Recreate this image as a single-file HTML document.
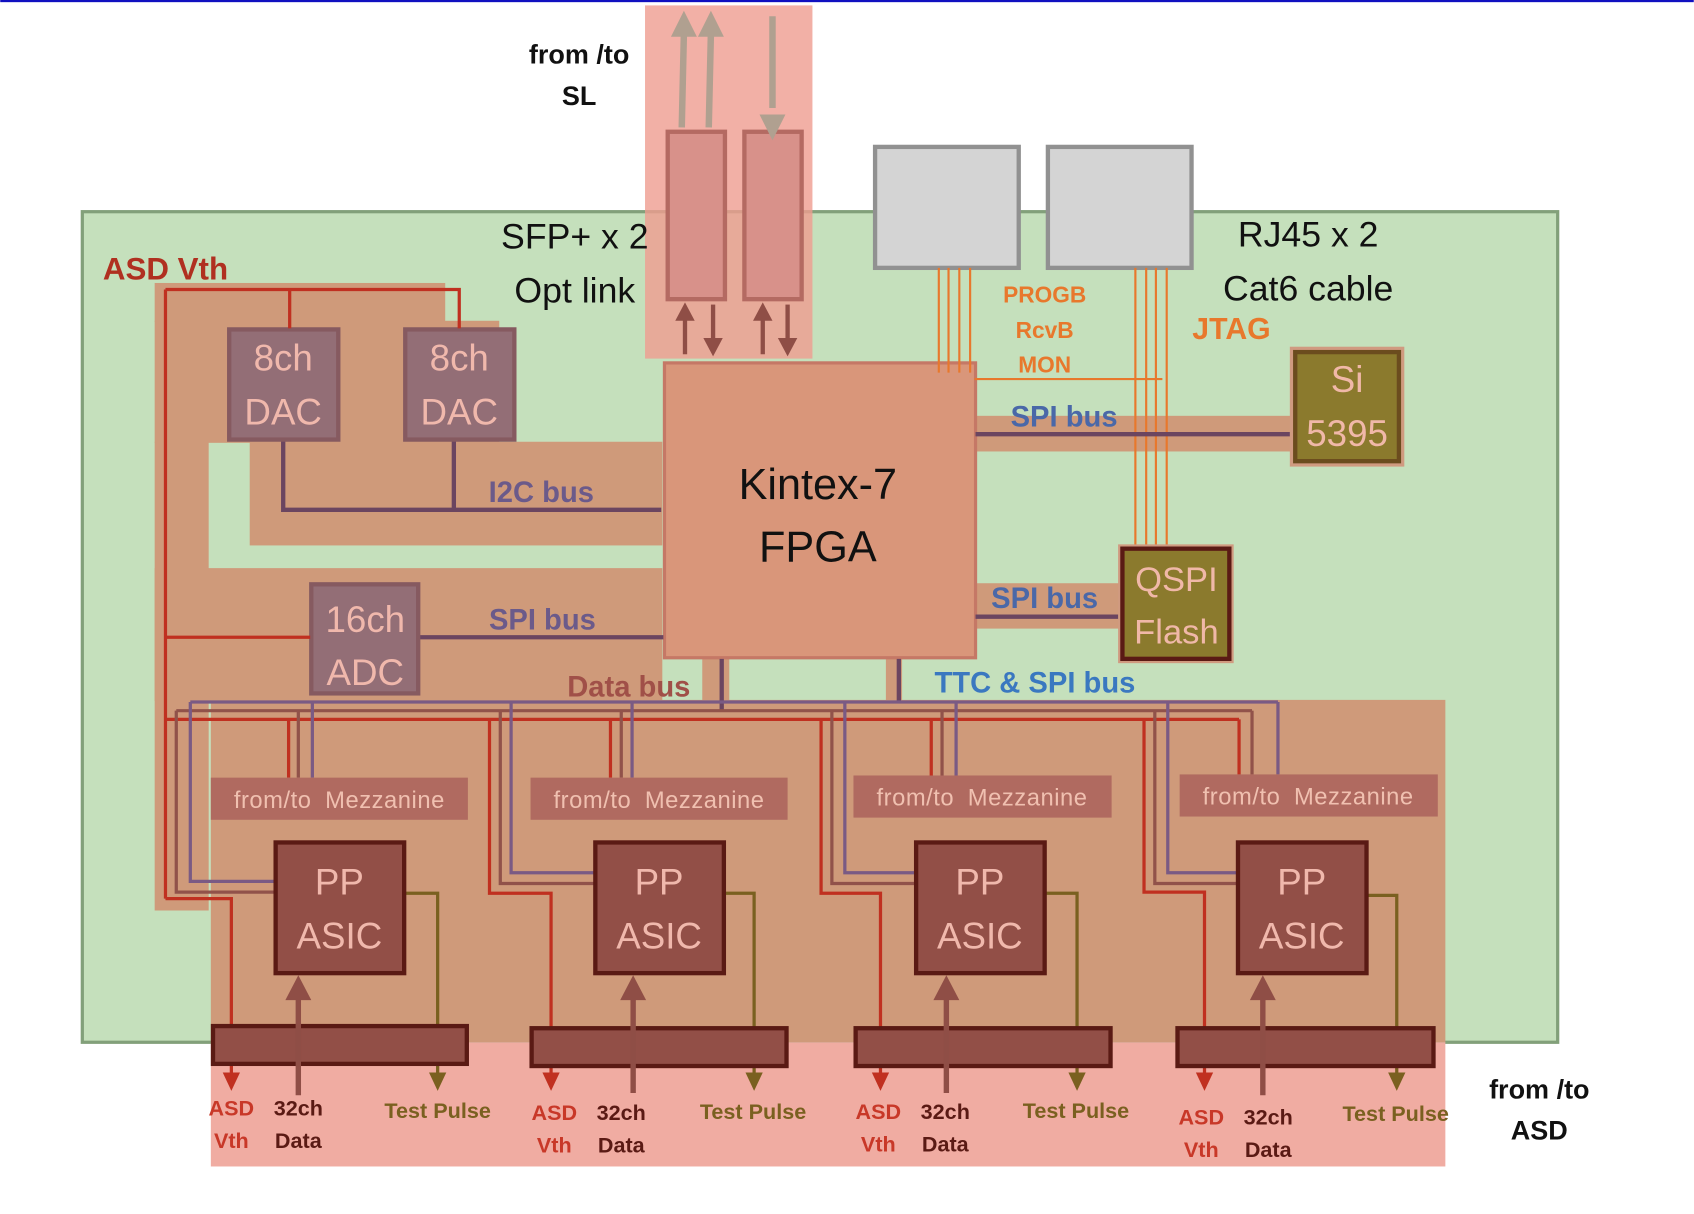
<!DOCTYPE html>
<html><head><meta charset="utf-8"><style>
html,body{margin:0;padding:0;background:#fff;}
svg{display:block;font-family:"Liberation Sans",sans-serif;}
</style></head><body>
<svg width="1694" height="1214" viewBox="0 0 1568 1124" xmlns="http://www.w3.org/2000/svg">
<rect x="0" y="0" width="1568" height="2" fill="#1010c0"/>
<rect x="76" y="196" width="1366" height="769" fill="#c5e0bc" stroke="#82a07a" stroke-width="3"/>
<g fill="#cf9a7a">
<rect x="143" y="262" width="269" height="36"/>
<rect x="143" y="297" width="319" height="113"/>
<rect x="143" y="409" width="50" height="434"/>
<rect x="231" y="409" width="382" height="96"/>
<rect x="143" y="526" width="470" height="123"/>
<rect x="195" y="648" width="1143" height="317"/>
<rect x="900" y="385" width="296" height="33"/>
<rect x="900" y="540" width="138" height="42"/>
<rect x="650" y="605" width="25" height="45"/>
<rect x="820" y="605" width="15" height="45"/>
</g>
<rect x="597" y="5" width="155" height="327" fill="#ef9c90" fill-opacity="0.8"/>
<rect x="195" y="965" width="1143" height="115" fill="#f0aca2"/>
<rect x="618" y="122" width="53" height="155" fill="#d8918a" stroke="#b46a62" stroke-width="4"/>
<rect x="689" y="122" width="53" height="155" fill="#d8918a" stroke="#b46a62" stroke-width="4"/>
<g stroke="#b0a090" stroke-width="6" fill="none">
<line x1="631" y1="118" x2="633" y2="30"/><line x1="656" y1="118" x2="658" y2="30"/>
<line x1="715" y1="15" x2="715" y2="100"/>
</g>
<g fill="#b0a090">
<path d="M621,34L633,10L645,34z"/><path d="M646,34L658,10L670,34z"/><path d="M703,106L715,130L727,106z"/>
</g>
<g stroke="#8f4e46" stroke-width="4">
<line x1="634" y1="328" x2="634" y2="295"/><line x1="660" y1="282" x2="660" y2="315"/>
<line x1="706" y1="328" x2="706" y2="295"/><line x1="729" y1="282" x2="729" y2="315"/>
</g>
<g fill="#8f4e46">
<path d="M625,297L634,280L643,297z"/><path d="M651,313L660,330L669,313z"/>
<path d="M697,297L706,280L715,297z"/><path d="M720,313L729,330L738,313z"/>
</g>
<rect x="810" y="136" width="133" height="112" fill="#d4d4d4" stroke="#919191" stroke-width="4"/>
<rect x="970" y="136" width="133" height="112" fill="#d4d4d4" stroke="#919191" stroke-width="4"/>
<rect x="615" y="336" width="288" height="273" fill="#d9967a" stroke="#c57866" stroke-width="3"/>
<text x="757" y="462" font-size="40" text-anchor="middle" fill="#111">Kintex-7</text>
<text x="757" y="520" font-size="40" text-anchor="middle" fill="#111">FPGA</text>
<g stroke="#e8782c" stroke-width="2">
<line x1="869" y1="248" x2="869" y2="345"/><line x1="878" y1="248" x2="878" y2="345"/>
<line x1="888" y1="248" x2="888" y2="345"/><line x1="898" y1="248" x2="898" y2="345"/>
<line x1="902" y1="351" x2="1076" y2="351"/>
<line x1="1051" y1="248" x2="1051" y2="506"/><line x1="1061" y1="248" x2="1061" y2="506"/>
<line x1="1070" y1="248" x2="1070" y2="506"/><line x1="1080" y1="248" x2="1080" y2="506"/>
</g>
<g stroke="#6b4560" stroke-width="4" fill="none">
<line x1="903" y1="402" x2="1196" y2="402"/>
<line x1="903" y1="571" x2="1037" y2="571"/>
<polyline points="262,407 262,472 612,472"/>
<line x1="420" y1="407" x2="420" y2="472"/>
<line x1="387" y1="590" x2="614" y2="590"/>
<line x1="668" y1="610" x2="668" y2="657"/>
<line x1="832" y1="610" x2="832" y2="651"/>
</g>
<rect x="1194" y="321" width="106" height="111" fill="#d09a80"/>
<rect x="1199" y="326" width="96" height="101" fill="#8b7a2d" stroke="#6b4c1e" stroke-width="4"/>
<text x="1247" y="363" font-size="34" text-anchor="middle" fill="#f0b8a8">Si</text>
<text x="1247" y="413" font-size="34" text-anchor="middle" fill="#f0b8a8">5395</text>
<rect x="1035" y="504" width="107" height="110" fill="#d09a80"/>
<rect x="1039" y="508" width="99" height="102" fill="#8b7a2d" stroke="#5a1a14" stroke-width="4"/>
<text x="1089" y="547" font-size="32" text-anchor="middle" fill="#f0b8a8">QSPI</text>
<text x="1089" y="596" font-size="32" text-anchor="middle" fill="#f0b8a8">Flash</text>
<g fill="#936e76" stroke="#865a60" stroke-width="4">
<rect x="212" y="305" width="101" height="102"/>
<rect x="375" y="305" width="101" height="102"/>
<rect x="288" y="541" width="99" height="101"/>
</g>
<g fill="#f0b8ac" font-size="34" text-anchor="middle">
<text x="262" y="343">8ch</text><text x="262" y="393">DAC</text>
<text x="425" y="343">8ch</text><text x="425" y="393">DAC</text>
<text x="338" y="585">16ch</text><text x="338" y="634">ADC</text>
</g>
<g stroke="#c03020" stroke-width="3" fill="none">
<polyline points="153,268 425,268 425,304"/>
<line x1="268" y1="268" x2="268" y2="304"/>
<line x1="153" y1="268" x2="153" y2="832"/>
<line x1="153" y1="590" x2="287" y2="590"/>
<line x1="153" y1="666" x2="1147" y2="666"/>
</g>
<line x1="176" y1="650" x2="1183" y2="650" stroke="#7a5a84" stroke-width="3"/>
<line x1="163" y1="658" x2="1159" y2="658" stroke="#91524a" stroke-width="3"/>
<g fill="none" stroke-width="3">
<polyline stroke="#c03020" points="153,832 214,832 214,1000"/>
<polyline stroke="#91524a" points="163,658 163,826 254,826"/>
<polyline stroke="#7a5a84" points="176,650 176,816 254,816"/>
<line stroke="#c03020" x1="267" y1="666" x2="267" y2="720"/>
<line stroke="#91524a" x1="276" y1="658" x2="276" y2="720"/>
<line stroke="#7a5a84" x1="289" y1="650" x2="289" y2="720"/>
<polyline stroke="#7a6020" points="374,827 405,827 405,1000"/>
</g>
<g fill="none" stroke-width="3">
<polyline stroke="#c03020" points="453,666 453,827 510,827 510,1000"/>
<polyline stroke="#91524a" points="463,658 463,818 550,818"/>
<polyline stroke="#7a5a84" points="473,650 473,808 550,808"/>
<line stroke="#c03020" x1="565" y1="666" x2="565" y2="720"/>
<line stroke="#91524a" x1="575" y1="658" x2="575" y2="720"/>
<line stroke="#7a5a84" x1="585" y1="650" x2="585" y2="720"/>
<polyline stroke="#7a6020" points="670,827 698,827 698,1000"/>
</g>
<g fill="none" stroke-width="3">
<polyline stroke="#c03020" points="760,666 760,827 815,827 815,1000"/>
<polyline stroke="#91524a" points="770,658 770,818 847,818"/>
<polyline stroke="#7a5a84" points="782,650 782,808 847,808"/>
<line stroke="#c03020" x1="862" y1="666" x2="862" y2="718"/>
<line stroke="#91524a" x1="872" y1="658" x2="872" y2="718"/>
<line stroke="#7a5a84" x1="885" y1="650" x2="885" y2="718"/>
<polyline stroke="#7a6020" points="967,827 997,827 997,1000"/>
</g>
<g fill="none" stroke-width="3">
<polyline stroke="#c03020" points="1059,666 1059,826 1115,826 1115,1000"/>
<polyline stroke="#91524a" points="1069,658 1069,818 1145,818"/>
<polyline stroke="#7a5a84" points="1081,650 1081,808 1145,808"/>
<line stroke="#c03020" x1="1147" y1="666" x2="1147" y2="717"/>
<line stroke="#91524a" x1="1159" y1="658" x2="1159" y2="717"/>
<line stroke="#7a5a84" x1="1183" y1="650" x2="1183" y2="717"/>
<polyline stroke="#7a6020" points="1265,829 1293,829 1293,1000"/>
</g>
<g fill="#b06a60">
<rect x="195" y="720" width="238" height="39"/>
<rect x="491" y="720" width="238" height="39"/>
<rect x="790" y="718" width="239" height="39"/>
<rect x="1092" y="717" width="239" height="39"/>
</g>
<g fill="#f0c0b0" font-size="22" text-anchor="middle" word-spacing="6" letter-spacing="0.5">
<text x="314" y="748">from/to Mezzanine</text>
<text x="610" y="748">from/to Mezzanine</text>
<text x="909" y="746">from/to Mezzanine</text>
<text x="1211" y="745">from/to Mezzanine</text>
</g>
<g fill="#924f47" stroke="#5a1a14" stroke-width="4">
<rect x="255" y="780" width="119" height="121"/>
<rect x="551" y="780" width="119" height="121"/>
<rect x="848" y="780" width="119" height="121"/>
<rect x="1146" y="780" width="119" height="121"/>
<rect x="197" y="950" width="235" height="35"/>
<rect x="492" y="952" width="236" height="35"/>
<rect x="792" y="952" width="236" height="35"/>
<rect x="1090" y="952" width="237" height="35"/>
</g>
<g fill="#f0b8ac" font-size="34" text-anchor="middle">
<text x="314" y="828">PP</text><text x="314" y="878">ASIC</text>
<text x="610" y="828">PP</text><text x="610" y="878">ASIC</text>
<text x="907" y="828">PP</text><text x="907" y="878">ASIC</text>
<text x="1205" y="828">PP</text><text x="1205" y="878">ASIC</text>
</g>
<g stroke="#8f4e46" stroke-width="5">
<line x1="276" y1="1014" x2="276" y2="920"/>
<line x1="586" y1="1012" x2="586" y2="920"/>
<line x1="876" y1="1012" x2="876" y2="920"/>
<line x1="1169" y1="1014" x2="1169" y2="920"/>
</g>
<g fill="#8f4e46">
<path d="M264,926L276,903L288,926z"/><path d="M574,926L586,903L598,926z"/>
<path d="M864,926L876,903L888,926z"/><path d="M1157,926L1169,903L1181,926z"/>
</g>
<g fill="#c03020">
<path d="M206,993L214,1010L222,993z"/><path d="M502,993L510,1010L518,993z"/>
<path d="M807,993L815,1010L823,993z"/><path d="M1107,993L1115,1010L1123,993z"/>
</g>
<g fill="#7a6020">
<path d="M397,993L405,1010L413,993z"/><path d="M690,993L698,1010L706,993z"/>
<path d="M989,993L997,1010L1005,993z"/><path d="M1285,993L1293,1010L1301,993z"/>
</g>
<g font-size="20" text-anchor="middle" font-weight="bold">
<g fill="#c83828"><text x="214" y="1033">ASD</text><text x="214" y="1063">Vth</text>
<text x="513" y="1037">ASD</text><text x="513" y="1067">Vth</text>
<text x="813" y="1036">ASD</text><text x="813" y="1066">Vth</text>
<text x="1112" y="1041">ASD</text><text x="1112" y="1071">Vth</text></g>
<g fill="#5a1a14"><text x="276" y="1033">32ch</text><text x="276" y="1063">Data</text>
<text x="575" y="1037">32ch</text><text x="575" y="1067">Data</text>
<text x="875" y="1036">32ch</text><text x="875" y="1066">Data</text>
<text x="1174" y="1041">32ch</text><text x="1174" y="1071">Data</text></g>
<g fill="#7a6020"><text x="405" y="1035">Test Pulse</text><text x="697" y="1036">Test Pulse</text>
<text x="996" y="1035">Test Pulse</text><text x="1292" y="1038">Test Pulse</text></g>
</g>
<g font-weight="bold" font-size="25" text-anchor="middle" fill="#111">
<text x="536" y="59">from /to</text><text x="536" y="97">SL</text>
<text x="1425" y="1017">from /to</text><text x="1425" y="1055">ASD</text>
</g>
<g font-size="33" text-anchor="middle" fill="#111">
<text x="532" y="230">SFP+ x 2</text><text x="532" y="280">Opt link</text>
<text x="1211" y="228">RJ45 x 2</text><text x="1211" y="278">Cat6 cable</text>
</g>
<g font-weight="bold" text-anchor="middle">
<text x="1140" y="314" font-size="28" fill="#e8782c">JTAG</text>
<text x="967" y="280" font-size="21" fill="#e8782c">PROGB</text>
<text x="967" y="313" font-size="21" fill="#e8782c">RcvB</text>
<text x="967" y="345" font-size="21" fill="#e8782c">MON</text>
<text x="985" y="395" font-size="27" fill="#4a68a8">SPI bus</text>
<text x="967" y="563" font-size="27" fill="#4a68a8">SPI bus</text>
<text x="502" y="583" font-size="27" fill="#6b5a8a">SPI bus</text>
<text x="501" y="465" font-size="27" fill="#6b5a8a">I2C bus</text>
<text x="582" y="645" font-size="27" fill="#a05048">Data bus</text>
<text x="958" y="641" font-size="27" fill="#3a78c0">TTC &amp; SPI bus</text>
<text x="153" y="259" font-size="29" fill="#b03020">ASD Vth</text>
</g>
</svg>
</body></html>
